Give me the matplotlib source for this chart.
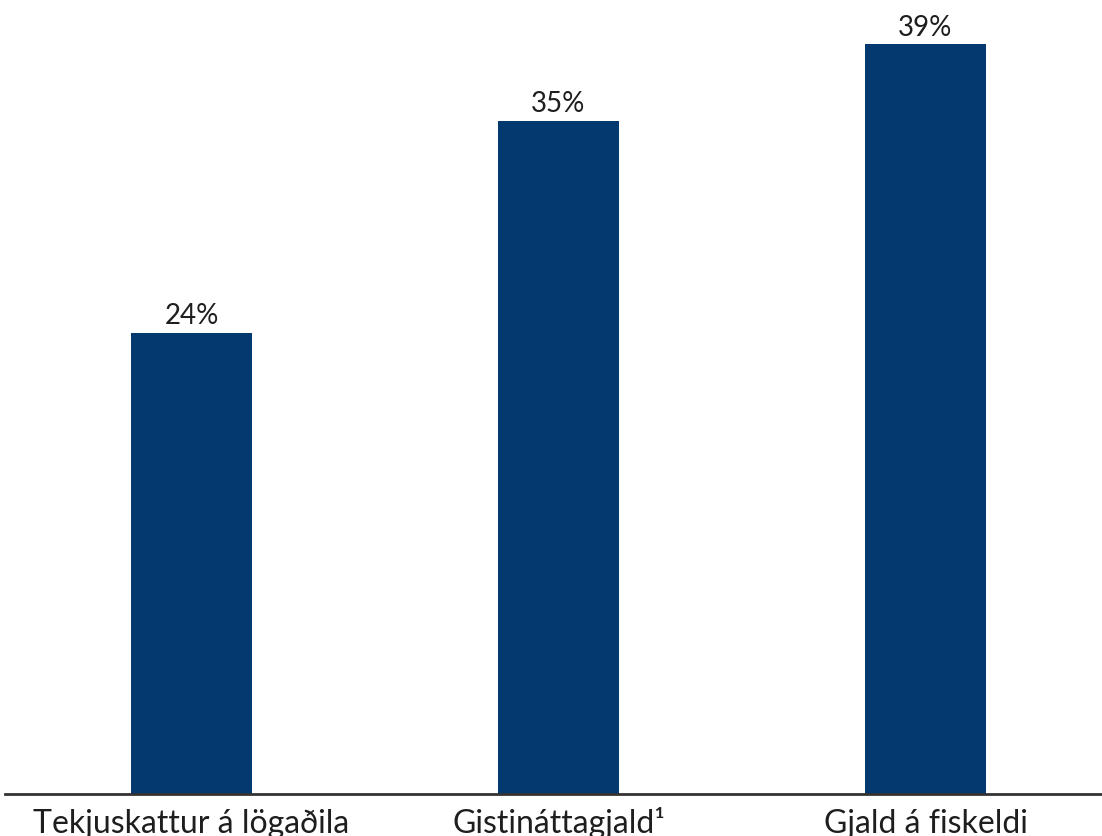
import matplotlib
matplotlib.use('Agg')
import matplotlib.pyplot as plt

categories = ['Tekjuskattur á lögaðila', 'Gistináttagjald¹', 'Gjald á fiskeldi']
values = [24, 35, 39]

BAR = '#023a70'
TXT = '#1e1e1e'

plt.rcParams['font.family'] = ['Lato', 'DejaVu Sans']

fig = plt.figure(figsize=(11.02, 8.37), dpi=100)
ax = fig.add_axes([5 / 1102, 42 / 837, 1097 / 1102, 795 / 837])

x = range(len(categories))
bars = ax.bar(x, values, width=0.33, color=BAR, zorder=2)

for b, v in zip(bars, values):
    ax.text(b.get_x() + b.get_width() / 2, v + 0.25, f'{v}%',
            ha='center', va='bottom', fontsize=20, color=TXT)

ax.set_xlim(-0.508, 2.481)
ax.set_ylim(0, 41.36)

# category labels sit low, descenders run off the bottom edge like the source
ax.set_xticks(list(x))
ax.set_xticklabels(categories, fontsize=23, color=TXT, va='baseline')
ax.tick_params(axis='x', length=0, pad=27.5)
ax.set_yticks([])

for s in ('top', 'right', 'left'):
    ax.spines[s].set_visible(False)
ax.spines['bottom'].set_color('#333333')
ax.spines['bottom'].set_linewidth(2)

fig.savefig('out.png', dpi=100, facecolor='white')
